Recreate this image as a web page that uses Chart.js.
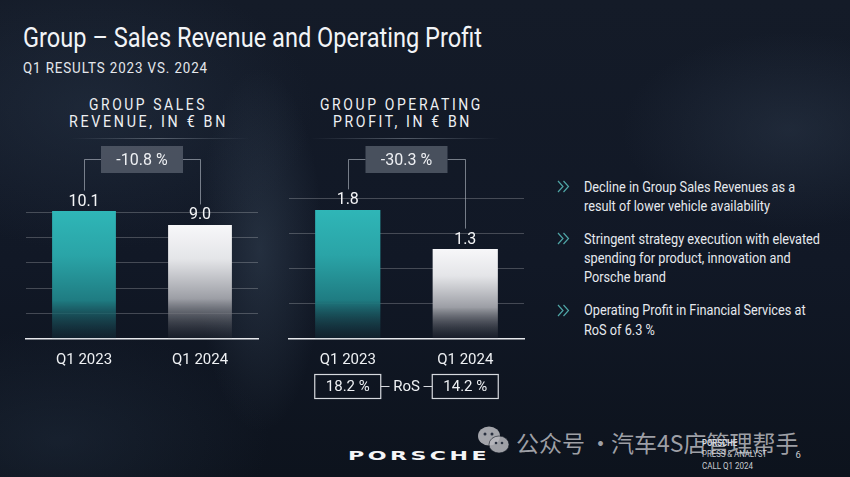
<!DOCTYPE html>
<html>
<head>
<meta charset="utf-8">
<script src="https://cdn.jsdelivr.net/npm/chart.js@4.4.1/dist/chart.umd.min.js"></script>
<style>
html, body { margin: 0; padding: 0; }
body {
  width: 850px; height: 477px; overflow: hidden; position: relative;
  font-family: Roboto, "Noto Sans", sans-serif; color: #eef0f3;
  background:
    radial-gradient(ellipse 90px 260px at 260px 250px, rgba(80,100,120,0.30), transparent 70%),
    radial-gradient(ellipse 320px 200px at 90px 110px, rgba(45,60,80,0.40), transparent 70%),
    radial-gradient(ellipse 240px 140px at 790px 130px, rgba(55,70,90,0.35), transparent 70%),
    radial-gradient(ellipse 300px 160px at 60px 440px, rgba(40,55,75,0.35), transparent 70%),
    linear-gradient(180deg, #141b28 0%, #111826 55%, #0d131d 100%);
}
.t { position: absolute; white-space: nowrap; transform-origin: 0 0; line-height: 1; }
.wm { position: absolute; white-space: nowrap; line-height: 1; font-size: 23px; font-family: 'Noto Sans CJK SC', sans-serif; color: rgba(215,215,220,0.72); top: 431px; }
.rule { position: absolute; height: 1px; background: linear-gradient(90deg, transparent, rgba(200,210,220,0.35), transparent); }
canvas { position: absolute; }
svg { position: absolute; }
</style>
</head>
<body>
<div class="t" id="title" style="left:23px;top:25px;font-size:27px;color:#f2f4f7">Group – Sales Revenue and Operating Profit</div>
<div class="t" id="sub" style="left:23px;top:61.4px;font-size:15px;letter-spacing:1px;color:#e4e7ec">Q1 RESULTS 2023 VS. 2024</div>

<div class="t" id="h1a" style="left:89.3px;top:97.2px;font-size:16px;letter-spacing:3px">GROUP SALES</div>
<div class="t" id="h1b" style="left:69px;top:113.8px;font-size:16px;letter-spacing:3px">REVENUE, IN € BN</div>
<div class="t" id="h2a" style="left:320px;top:97.2px;font-size:16px;letter-spacing:3px">GROUP OPERATING</div>
<div class="t" id="h2b" style="left:332.7px;top:113.8px;font-size:16px;letter-spacing:3px">PROFIT, IN € BN</div>
<div class="rule" style="left:70px;top:138px;width:180px"></div>
<div class="rule" style="left:310px;top:138px;width:190px"></div>

<canvas id="salesChart" width="280" height="290" style="left:0;top:90px"></canvas>
<canvas id="profitChart" width="260" height="310" style="left:280px;top:90px"></canvas>

<div id="bullets"></div>

<div class="t" id="logo" style="left:348px;top:448.6px;font-size:13px;font-family:'DejaVu Sans',sans-serif;font-weight:700;letter-spacing:2px;color:#f4f5f7">PORSCHE</div>
<div class="t" id="f1" style="left:701.7px;top:438.7px;font-size:9px;font-weight:700;color:#d8dbe0">PORSCHE</div>
<div class="t" id="f2" style="left:701.7px;top:449px;font-size:9.5px;color:#c8ccd2">PRESS &amp; ANALYST</div>
<div class="t" id="f3" style="left:701.7px;top:461px;font-size:9.5px;color:#c8ccd2">CALL Q1 2024</div>
<div class="t" style="left:795.5px;top:450px;font-size:9.5px;color:#c8ccd2">6</div>

<svg style="left:476px;top:426px" width="36" height="30">
  <ellipse cx="13" cy="10" rx="11" ry="9.5" fill="rgba(205,205,210,0.78)"/>
  <ellipse cx="23" cy="18.5" rx="10" ry="8.5" fill="rgba(185,185,190,0.85)" stroke="rgba(20,26,36,0.6)" stroke-width="1"/>
  <circle cx="9" cy="8" r="1.5" fill="#2a3140"/><circle cx="16" cy="8" r="1.5" fill="#2a3140"/>
  <circle cx="20" cy="17" r="1.3" fill="#2a3140"/><circle cx="26" cy="17" r="1.3" fill="#2a3140"/>
</svg>
<div class="wm" style="left:516px">公众号</div>
<div class="wm" style="left:589px">·</div>
<div class="wm" style="left:611px">汽车4S店管理帮手</div>

<script>
// data
const categories = ['Q1 2023', 'Q1 2024'];
const salesRevenue = [10.1, 9.0];
const operatingProfit = [1.84, 1.28];
const rosValues = [18.2, 14.2];
const salesChange = '-10.8 %';
const profitChange = '-30.3 %';
const salesGrid = [0, 2, 4, 6, 8, 10];
const profitGrid = [0, 0.5, 1, 1.5, 2];
const bulletLines = [
  ['Decline in Group Sales Revenues as a', 'result of lower vehicle availability'],
  ['Stringent strategy execution with elevated', 'spending for product, innovation and', 'Porsche brand'],
  ['Operating Profit in Financial Services at', 'RoS of 6.3 %']
];

function fit(id, w) {
  const el = document.getElementById(id);
  el.style.transform = 'scaleX(' + (w / el.getBoundingClientRect().width) + ')';
}

// bullets, positioned by baseline
const firstBaselines = [191.7, 243.3, 315];
const bulletsDiv = document.getElementById('bullets');
let widest = null;
bulletLines.forEach((lines, b) => {
  const chev = document.createElementNS('http://www.w3.org/2000/svg', 'svg');
  chev.setAttribute('width', 14); chev.setAttribute('height', 14);
  chev.style.left = '557px'; chev.style.top = (firstBaselines[b] - 11.5) + 'px';
  chev.innerHTML = '<polyline points="1,1 6,6.5 1,12" fill="none" stroke="#4fa5a6" stroke-width="1.2"/>' +
                   '<polyline points="6.5,1 11.5,6.5 6.5,12" fill="none" stroke="#4fa5a6" stroke-width="1.2"/>';
  bulletsDiv.appendChild(chev);
  lines.forEach((txt, i) => {
    const d = document.createElement('div');
    d.className = 't';
    d.textContent = txt;
    d.style.left = '584px';
    d.style.fontSize = '14px';
    d.style.color = '#e6e9ee';
    d.style.top = (firstBaselines[b] + i * 19.3 - 11.8) + 'px';
    bulletsDiv.appendChild(d);
    if (txt.startsWith('Stringent')) widest = d;
  });
});
const bulletScale = 236 / widest.getBoundingClientRect().width;
bulletsDiv.querySelectorAll('.t').forEach(d => { d.style.transform = 'scaleX(' + bulletScale + ')'; });

fit('title', 459); fit('sub', 185);
fit('h1a', 118); fit('h1b', 159); fit('h2a', 163); fit('h2b', 139);
fit('logo', 142); fit('f1', 35); fit('f2', 65); fit('f3', 51);

Chart.defaults.font.family = 'Roboto';
Chart.defaults.color = '#eef0f3';

function barFill(stops) {
  return ctx => {
    const ch = ctx.chart, a = ch.chartArea;
    if (!a || ctx.type !== 'data') return stops[0][1];
    const top = ch.scales.y.getPixelForValue(ctx.raw);
    const g = ch.ctx.createLinearGradient(0, top, 0, a.bottom);
    stops.forEach(s => g.addColorStop(s[0], s[1]));
    return g;
  };
}
const tealFill = barFill([[0, '#2fb6b7'], [0.35, '#2aa4a7'], [0.7, '#1f7c82'], [1, 'rgba(22,52,64,0.35)']]);
const whiteFill = barFill([[0, '#f7f7f9'], [0.3, '#e4e5e8'], [0.65, '#9c9ea5'], [1, 'rgba(40,44,54,0.35)']]);

const deco = {
  id: 'deco',
  afterDatasetsDraw(chart, args, o) {
    const c = chart.ctx, x = chart.scales.x, y = chart.scales.y;
    const vals = chart.data.datasets[0].data;
    const pts = vals.map((v, i) => ({ x: x.getPixelForValue(i), y: y.getPixelForValue(v) - 5.5, v: v }));
    c.save();
    c.font = '16px Roboto';
    c.fillStyle = '#f4f5f7';
    c.textAlign = 'center';
    c.textBaseline = 'alphabetic';
    pts.forEach(p => c.fillText(p.v.toFixed(1), p.x, p.y));

    // change bracket
    const by = 69.5, mid = (pts[0].x + pts[1].x) / 2, bw = 82, bh = 27;
    const lx = Math.round(pts[0].x) + 0.5, rx = Math.round(pts[1].x) + 0.5;
    c.strokeStyle = 'rgba(185,192,202,0.6)';
    c.lineWidth = 1;
    c.beginPath();
    c.moveTo(lx, pts[0].y - 15); c.lineTo(lx, by); c.lineTo(mid - bw / 2, by);
    c.moveTo(mid + bw / 2, by); c.lineTo(rx, by); c.lineTo(rx, pts[1].y - 15);
    c.stroke();
    c.fillStyle = 'rgba(86,94,108,0.8)';
    c.fillRect(mid - bw / 2, by - bh / 2, bw, bh);
    c.fillStyle = '#eef0f3';
    c.textBaseline = 'middle';
    c.fillText(o.change, mid, by + 1);

    // RoS boxes
    if (o.ros) {
      const ry = Math.round(chart.chartArea.bottom + 47.6) + 0.5, w = 66, h = 24;
      c.strokeStyle = '#d6d9de';
      c.lineWidth = 1.2;
      c.font = '15px Roboto';
      pts.forEach((p, i) => {
        c.strokeRect(p.x - w / 2, ry - h / 2, w, h);
        c.fillText(o.ros[i].toFixed(1) + ' %', p.x, ry + 1);
      });
      c.fillText('RoS', mid, ry + 1);
      c.lineWidth = 1;
      c.beginPath();
      c.moveTo(pts[0].x + w / 2, ry); c.lineTo(mid - 17, ry);
      c.moveTo(mid + 17, ry); c.lineTo(pts[1].x - w / 2, ry);
      c.stroke();
    }
    c.restore();
  }
};

function makeChart(id, values, grid, max, pad, barPct, extra) {
  return new Chart(document.getElementById(id), {
    type: 'bar',
    data: {
      labels: categories,
      datasets: [{
        data: values,
        backgroundColor: ctx => (ctx.dataIndex === 0 ? tealFill : whiteFill)(ctx),
        borderWidth: 0,
        barPercentage: barPct,
        categoryPercentage: 1
      }]
    },
    options: {
      responsive: false,
      animation: false,
      layout: { padding: pad },
      plugins: {
        legend: { display: false },
        tooltip: { enabled: false },
        deco: extra
      },
      scales: {
        x: {
          grid: { display: false, drawTicks: false },
          border: { color: '#e6e8ec', width: 1.5 },
          ticks: { color: '#eef0f3', font: { size: 15 }, padding: 13 },
          afterFit: s => { s.height = 30; }
        },
        y: {
          min: 0,
          max: max,
          grid: { color: 'rgba(255,255,255,0.22)', lineWidth: 1, drawTicks: false },
          border: { display: false },
          ticks: { display: false },
          afterFit: s => { s.width = 0; },
          afterBuildTicks: s => { s.ticks = grid.map(v => ({ value: v })); }
        }
      }
    },
    plugins: [deco]
  });
}

makeChart('salesChart', salesRevenue, salesGrid, 10.5,
  { left: 26, right: 22, top: 116, bottom: 11.3 }, 0.55, { change: salesChange });
makeChart('profitChart', operatingProfit, profitGrid, 2.1,
  { left: 9, right: 16, top: 101.7, bottom: 31.3 }, 0.555, { change: profitChange, ros: rosValues });
</script>
</body>
</html>
